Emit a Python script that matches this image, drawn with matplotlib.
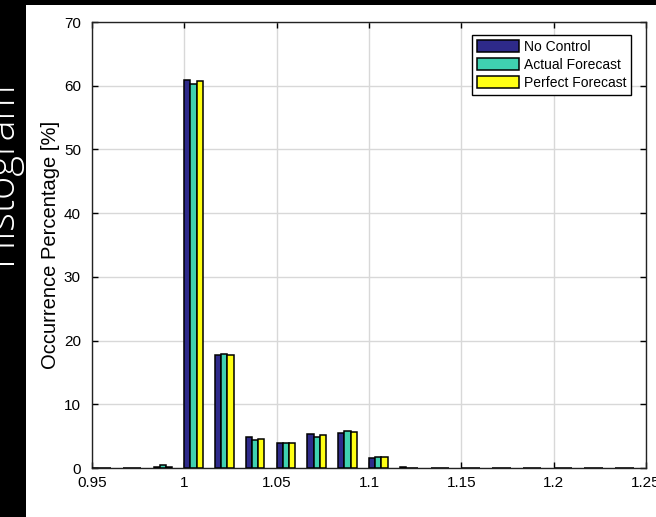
import matplotlib
matplotlib.use("Agg")
import matplotlib.pyplot as plt
from matplotlib.patches import Rectangle
import numpy as np

plt.rcParams['font.family'] = ['Liberation Sans', 'DejaVu Sans']

# Data
bin_index = np.arange(18)
bin_centers = 0.955 + bin_index / 60.0
no_control = [0, 0, 0.1, 60.9, 17.7, 4.8, 3.9, 5.3, 5.45, 1.6, 0.15, 0.06, 0.06, 0.05, 0.05, 0.05, 0.05, 0.05]
actual_forecast = [0, 0, 0.4, 60.2, 17.9, 4.4, 3.9, 4.9, 5.8, 1.8, 0.05, 0.03, 0.03, 0.03, 0.03, 0.03, 0.03, 0.03]
perfect_forecast = [0, 0, 0.15, 60.7, 17.7, 4.5, 3.9, 5.2, 5.6, 1.8, 0.05, 0.03, 0.03, 0.03, 0.03, 0.03, 0.03, 0.03]
series_names = ["No Control", "Actual Forecast", "Perfect Forecast"]
series_colors = ["#2e2a8a", "#3fd1b0", "#ffff14"]
x_ticks = [0.95, 1.0, 1.05, 1.1, 1.15, 1.2, 1.25]
x_tick_labels = ["0.95", "1", "1.05", "1.1", "1.15", "1.2", "1.25"]
y_ticks = [0, 10, 20, 30, 40, 50, 60, 70]

W, H = 656, 517
fig = plt.figure(figsize=(W / 100, H / 100), dpi=100, facecolor="black")

# white panel
fig.patches.append(Rectangle((26 / W, 0), 1 - 26 / W, 1 - 5 / H, transform=fig.transFigure,
                             facecolor="white", edgecolor="none", zorder=-10))

fig.text(21 / W, 1 - 172 / H, "Histogram", rotation=90, color="white", fontsize=28.5,
         family=["Open Sans", "DejaVu Sans"], fontweight="light", ha="right", va="center", zorder=-5)

ax = fig.add_axes([92 / W, 1 - 468 / H, (646 - 92) / W, (468 - 22) / H])
ax.set_facecolor("white")

bw = 0.00335
offsets = [-bw, 0, bw]
for vals, name, col, off in zip([no_control, actual_forecast, perfect_forecast], series_names, series_colors, offsets):
    ax.bar(bin_centers + off, vals, width=bw, color=col, edgecolor="black", linewidth=1.1,
           label=name, zorder=3)

ax.set_xlim(0.95, 1.25)
ax.set_ylim(0, 70)
ax.set_xticks(x_ticks)
ax.set_xticklabels(x_tick_labels)
ax.set_yticks(y_ticks)
ax.grid(True, color="#d8d8d8", linewidth=1.0, zorder=0)
ax.set_axisbelow(True)
ax.tick_params(axis="both", direction="in", top=True, right=True, length=4, width=1, labelsize=11, colors="black")
ax.tick_params(axis="y", pad=8)
ax.tick_params(axis="x", pad=6)
for s in ax.spines.values():
    s.set_linewidth(1.0)
    s.set_color("#222222")
ax.set_ylabel("Occurrence Percentage [%]", fontsize=14.5, labelpad=3)

leg = ax.legend(loc="upper right", bbox_to_anchor=(0.978, 0.977), fontsize=10, frameon=True, fancybox=False,
                edgecolor="black", framealpha=1, handlelength=3.0, handleheight=0.95, handletextpad=0.35,
                labelspacing=0.3, borderpad=0.35, borderaxespad=0.2)
leg.get_frame().set_linewidth(1.0)

fig.savefig("out.png", dpi=100, facecolor="black")
